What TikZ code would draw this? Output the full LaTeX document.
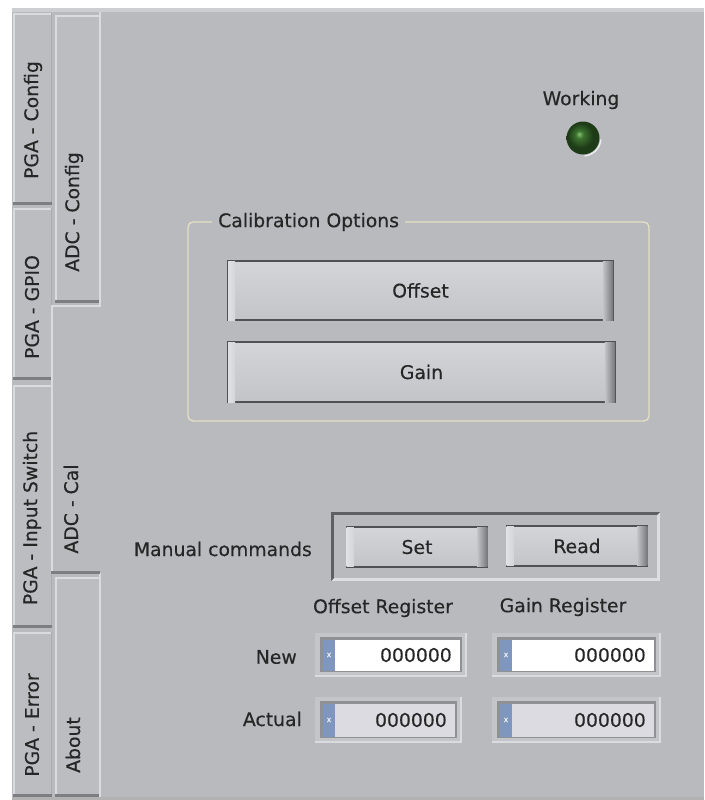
\documentclass[tikz,border=0pt]{standalone}
\usepackage{fontspec}
\newfontfamily\ui[FakeBold=0.35]{DejaVu Sans}
\definecolor{bg}{HTML}{B9BABE}
\definecolor{tabfill}{HTML}{BCBDC1}
\definecolor{hilite}{HTML}{DADBDF}
\definecolor{topband}{HTML}{CDCED2}
\definecolor{shadow}{HTML}{7C7E82}
\definecolor{tabside}{HTML}{ABACB0}
\definecolor{txt}{HTML}{262626}
\definecolor{grpline}{HTML}{E4E1C4}
\definecolor{btnedge}{HTML}{4E5155}
\definecolor{btnTop}{HTML}{D4D5D9}
\definecolor{btnBot}{HTML}{C3C4C8}
\definecolor{btnDark}{HTML}{74767A}
\definecolor{btnLight}{HTML}{E0E1E4}
\definecolor{frameDark}{HTML}{5E6064}
\definecolor{frameLight}{HTML}{DDDEE1}
\definecolor{numblue}{HTML}{7F97BE}
\definecolor{numgray}{HTML}{DBDBE1}
\definecolor{numFrame}{HTML}{C4C5C9}
\definecolor{numShade}{HTML}{8F9195}
\definecolor{ledDark}{HTML}{1E3B18}
\definecolor{ledMid}{HTML}{3C7230}
\definecolor{ledLight}{HTML}{85C26B}
\pgfdeclareradialshading{ledshade}{\pgfpoint{-6bp}{6bp}}{color(0bp)=(ledLight); color(6bp)=(ledMid); color(19bp)=(ledDark); color(25bp)=(ledDark); color(50bp)=(ledDark)}
\tikzset{
  lbl/.style={font=\ui\fontsize{18.8}{23}\selectfont, text=txt, inner sep=0pt},
  tablbl/.style={lbl, rotate=90},
  btnbox/.style={draw=btnedge, line width=1.6pt, top color=btnTop, bottom color=btnBot, lbl},
  numtxt/.style={lbl, anchor=east},
  xmark/.style={font=\ui\fontsize{8}{9}\selectfont, text=white!85!numblue, inner sep=0pt},
}
\newcommand{\plaintab}[4]{%
  \fill[tabfill] (#1,#2) rectangle (#3,#4);
  \fill[hilite] (#1,#2) rectangle ({#3},{#2+2});
  \fill[hilite] (#1,#2) rectangle ({#1+2},{#4});
  \fill[tabside] ({#3-1.5},#2) rectangle (#3,#4);
  \fill[shadow] (#1,{#4-3}) rectangle (#3,#4);
}
\newcommand{\btnedges}[1]{%
  \fill[left color=btnBot, right color=btnDark] ([xshift=-11pt,yshift=-0.8pt]#1.north east) rectangle ([xshift=-0.8pt,yshift=0.8pt]#1.south east);
  \fill[left color=btnLight, right color=btnTop] ([xshift=0.8pt,yshift=-0.8pt]#1.north west) rectangle ([xshift=8pt,yshift=0.8pt]#1.south west);
}
\newcommand{\numbox}[6]{%
  \fill[numFrame] (#2,#3) rectangle (#4,#5);
  \fill[hilite] (#2,{#5-2}) rectangle (#4,#5);
  \fill[hilite] ({#4-2},#3) rectangle (#4,#5);
  \fill[numShade] ({#2+5},{#3+4}) rectangle ({#4-5},{#5-5});
  \fill[#6] ({#2+8},{#3+7}) rectangle ({#4-7},{#5-6});
  \fill[numblue] ({#2+8},{#3+7}) rectangle ({#2+20},{#5-6});
  \node[xmark] (#1x) at ({#2+14},{(#3+#5)/2}) {x};
  \node[numtxt] (#1) at ({#4-15},{(#3+#5)/2}) {000000};
}
\begin{document}
\begin{tikzpicture}[x=1pt,y=-1pt]
\useasboundingbox (0,0) rectangle (704,800);
\fill[white] (0,0) rectangle (704,800);
% panel
\fill[bg] (12,8) rectangle (704,800);
\fill[topband] (12,8) rectangle (704,12);
\fill[black!30] (12,797) rectangle (704,800);
% column 1 tabs
\plaintab{13}{13}{52}{205}
\plaintab{13}{208}{52}{380}
\plaintab{13}{385}{52}{628}
\plaintab{13}{632}{52}{797}
% column 2 tabs
\plaintab{55}{15}{100}{303}
\plaintab{55}{577}{100}{797}
% panel left border
\fill[hilite] (99,12) rectangle (101,306);
\fill[hilite] (99,573) rectangle (101,797);
% selected tab
\fill[bg] (51,306) rectangle (101,573);
\fill[hilite] (51,305) rectangle (101,307);
\fill[hilite] (51,305) rectangle (53,573);
\fill[shadow] (51,571) rectangle (100,574);
% tab labels
\node[tablbl] (t1) at (33,120) {PGA - Config};
\node[tablbl] (t2) at (32,307) {PGA - GPIO};
\node[tablbl] (t3) at (32,518) {PGA - Input Switch};
\node[tablbl] (t4) at (32,725) {PGA - Error};
\node[tablbl] (c1) at (74,212) {ADC - Config};
\node[tablbl] (c2) at (71,509) {ADC - Cal};
\node[tablbl] (c3) at (73,745) {About};
% working LED
\node[lbl] (working) at (581,100) {Working};
\node[circle, minimum size=33pt, inner sep=0pt, shading=ledshade] (led) at (583,138) {};
\draw[white, line width=1.4pt, opacity=0.75] (led.center) ++(5:18) arc (5:85:18);
% calibration group
\draw[grpline, line width=1.3pt, rounded corners=5pt] (188,222) rectangle (649,421);
\node[lbl, fill=bg, inner xsep=6pt, anchor=west] (calib) at (212,222) {Calibration Options};
\node[btnbox, minimum width=385pt, minimum height=59pt] (offset) at (420.5,290.5) {};
\btnedges{offset}
\node[lbl] (offsettxt) at (offset.center) {Offset};
\node[btnbox, minimum width=387pt, minimum height=60pt] (gain) at (421.5,372) {};
\btnedges{gain}
\node[lbl] (gaintxt) at (gain.center) {Gain};
% manual commands
\node[lbl, anchor=east] (manual) at (312,549) {Manual commands};
\fill[frameLight] (331,512) rectangle (660,581);
\fill[frameDark] (331,512) -- (660,512) -- (657,515) -- (334,515) -- (334,578) -- (331,581) -- cycle;
\fill[bg] (334,515) rectangle (657,578);
\node[btnbox, line width=1.4pt, minimum width=141pt, minimum height=40pt] (set) at (417,547) {};
\btnedges{set}
\node[lbl] (settxt) at (set.center) {Set};
\node[btnbox, line width=1.4pt, minimum width=141pt, minimum height=40pt] (read) at (577,546) {};
\btnedges{read}
\node[lbl] (readtxt) at (read.center) {Read};
% registers
\node[lbl] (offreg) at (383,608) {Offset Register};
\node[lbl] (gainreg) at (563,607) {Gain Register};
\node[lbl, anchor=east] (new) at (297,657) {New};
\node[lbl, anchor=east] (actual) at (302,719) {Actual};
\numbox{offnew}{315}{633}{467}{677}{white}
\numbox{gainnew}{492}{633}{661}{677}{white}
\numbox{offact}{315}{697}{462}{743}{numgray}
\numbox{gainact}{492}{697}{661}{743}{numgray}
\end{tikzpicture}
\end{document}
